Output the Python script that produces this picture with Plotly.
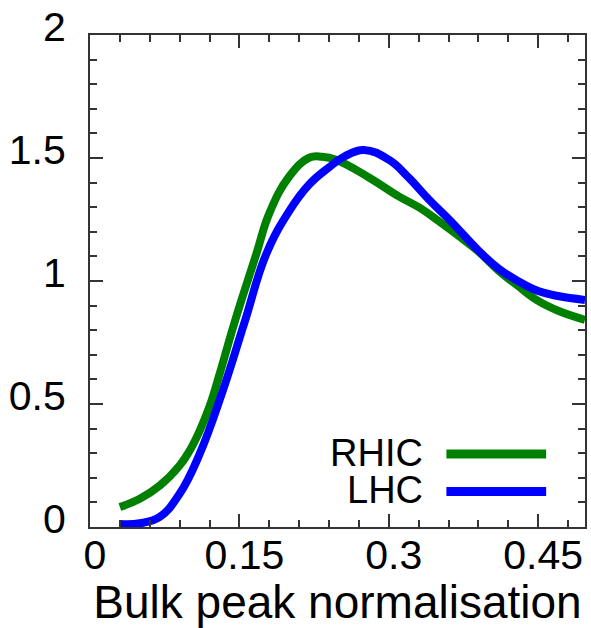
import plotly.graph_objects as go

# RHIC (green) curve
rhic_x = [0.03, 0.05, 0.07, 0.09, 0.10, 0.11, 0.12, 0.13, 0.145, 0.167, 0.18, 0.20, 0.22, 0.233,
          0.247, 0.28, 0.31, 0.33, 0.35, 0.37, 0.39, 0.41, 0.43, 0.45, 0.47, 0.497]
rhic_y = [0.081, 0.115, 0.168, 0.250, 0.310, 0.390, 0.490, 0.620, 0.830, 1.110, 1.275, 1.425, 1.501, 1.505,
          1.493, 1.421, 1.344, 1.300, 1.244, 1.184, 1.120, 1.043, 0.979, 0.919, 0.879, 0.842]

# LHC (blue) curve
lhc_x = [0.03, 0.05, 0.07, 0.09, 0.11, 0.133, 0.155, 0.177, 0.20, 0.22, 0.24, 0.255,
         0.275, 0.30, 0.32, 0.34, 0.363, 0.39, 0.41, 0.43, 0.45, 0.47, 0.497]
lhc_y = [0.012, 0.015, 0.041, 0.135, 0.296, 0.550, 0.830, 1.110, 1.284, 1.392, 1.462, 1.505,
         1.533, 1.493, 1.420, 1.332, 1.240, 1.124, 1.051, 0.999, 0.959, 0.939, 0.923]

series_names = ["RHIC", "LHC"]
series_colors = ["#008000", "#0000ff"]

x_tickvals = [0, 0.15, 0.3, 0.45]
x_ticktext = ["0", "0.15", "0.3", "0.45"]
y_tickvals = [0, 0.5, 1, 1.5, 2]
y_ticktext = ["0", "0.5", "1", "1.5", "2"]
x_title = "Bulk peak normalisation"

FONT = "Liberation Sans, Arial, Helvetica, sans-serif"
AX = "#333333"

fig = go.Figure()
for xs, ys, name, col in [(rhic_x, rhic_y, series_names[0], series_colors[0]),
                          (lhc_x, lhc_y, series_names[1], series_colors[1])]:
    fig.add_trace(go.Scatter(x=xs, y=ys, mode="lines", name=name,
                             line=dict(color=col, width=8, shape="spline", smoothing=1.2),
                             showlegend=False, cliponaxis=True))

axis_common = dict(
    showgrid=False, zeroline=False, showline=True, linecolor=AX, linewidth=2,
    mirror="ticks", ticks="inside", ticklen=13, tickwidth=2, tickcolor=AX,
    ticklabeloverflow="allow",
)

fig.update_xaxes(range=[0, 0.497], tickvals=x_tickvals, ticktext=x_ticktext,
                 tickfont=dict(family=FONT, size=41, color="black"),
                 minor=dict(dtick=0.03, ticks="inside", ticklen=7, tickwidth=2, tickcolor=AX, showgrid=False),
                 title=dict(text=x_title, font=dict(family=FONT, size=46, color="black"), standoff=10),
                 ticklabelshift=5, ticklabelstandoff=-9,
                 **axis_common)
fig.update_yaxes(range=[0, 2], tickvals=y_tickvals, ticktext=y_ticktext,
                 tickfont=dict(family=FONT, size=41, color="black"),
                 minor=dict(dtick=0.1, ticks="inside", ticklen=7, tickwidth=2, tickcolor=AX, showgrid=False),
                 ticklabelshift=-8, ticklabelstandoff=14,
                 **axis_common)

# Legend drawn manually (text left, line sample right)
leg_y = [0.1506, 0.0743]
for name, col, yy in zip(series_names, series_colors, leg_y):
    fig.add_annotation(xref="paper", yref="paper", x=0.676, y=yy, text=name, showarrow=False,
                       xanchor="right", yanchor="middle", height=36, valign="middle",
                       font=dict(family=FONT, size=38, color="black"))
    fig.add_shape(type="line", xref="paper", yref="paper", x0=0.720, x1=0.9215, y0=yy - 0.002, y1=yy - 0.002,
                  line=dict(color=col, width=9))

fig.update_layout(
    width=591, height=628,
    margin=dict(l=90, r=4, t=29, b=101),
    plot_bgcolor="white", paper_bgcolor="white",
    font=dict(family=FONT, color="black"),
)

fig.write_html("out.html")
